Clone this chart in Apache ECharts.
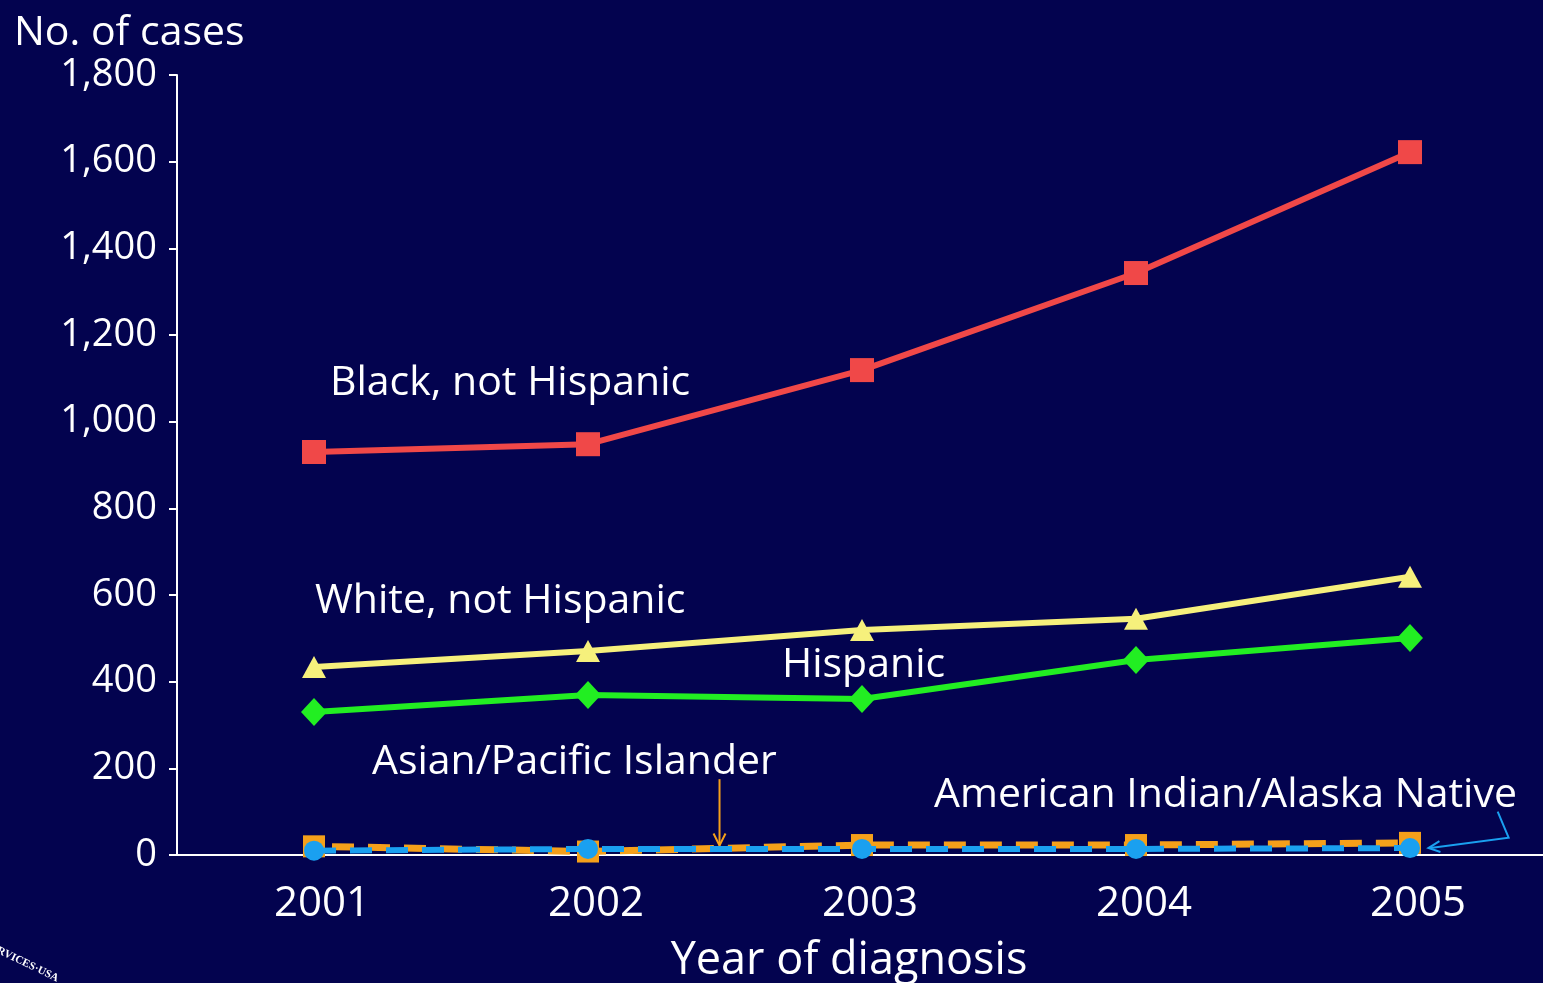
<!DOCTYPE html>
<html><head><meta charset="utf-8">
<script src="https://cdn.jsdelivr.net/npm/echarts@6/dist/echarts.min.js"></script>
<style>html,body{margin:0;padding:0;background:#03034f;}#c{width:1543px;height:983px;}</style>
</head><body><div id="c"></div>
<script>
const years = ['2001','2002','2003','2004','2005'];
const yTicks = [0,200,400,600,800,1000,1200,1400,1600,1800];
const black = [930, 948, 1119, 1343, 1622];
const white = [434, 471, 519, 545, 642];
const hispanic = [330, 369, 360, 450, 501];
const asian = [20, 8, 23, 23, 28];
const aian = [10, 14, 14, 14, 16];
const seriesNames = ['Black, not Hispanic','White, not Hispanic','Hispanic','Asian/Pacific Islander','American Indian/Alaska Native'];

const FONT = '"Open Sans", Lato, sans-serif';
const G = {left:177, right:-4, top:75, bottom:128};
const chart = echarts.init(document.getElementById('c'));
function fmt(v){return v.toLocaleString('en-US');}
const option = {
  backgroundColor:'#03034f',
  animation:false,
  grid:{left:G.left,right:G.right,top:G.top,bottom:G.bottom,containLabel:false,outerBoundsMode:'none'},
  xAxis:{type:'category',data:years,boundaryGap:true,
    axisLine:{lineStyle:{color:'#ffffff',width:2}},axisTick:{show:false},
    axisLabel:{color:'#ffffff',fontSize:42,fontFamily:FONT,margin:28,padding:[0,0,0,16]},
    name:'Year of diagnosis',nameLocation:'middle',nameGap:84,nameMoveOverlap:false,
    nameTextStyle:{color:'#ffffff',fontSize:45,fontFamily:FONT,padding:[0,0,0,-26]}},
  yAxis:{type:'value',min:0,max:1800,interval:200,
    axisLine:{show:true,lineStyle:{color:'#ffffff',width:2}},
    axisTick:{show:true,length:8,lineStyle:{color:'#ffffff',width:2}},
    splitLine:{show:false},
    axisLabel:{color:'#ffffff',fontSize:38,fontFamily:FONT,margin:20,formatter:v=>fmt(v)}},
  series:[
    {name:seriesNames[4],type:'line',data:aian,z:3,symbol:'circle',symbolSize:20,
      itemStyle:{color:'#1aa0f0'},lineStyle:{color:'#1aa0f0',width:6,type:[22,14]}},
    {name:seriesNames[3],type:'line',data:asian,z:2,symbol:'rect',symbolSize:22,
      itemStyle:{color:'#f5a01a'},lineStyle:{color:'#f5a01a',width:7,type:[22,14],dashOffset:18}},
    {name:seriesNames[2],type:'line',data:hispanic,symbol:'diamond',symbolSize:[26,28],
      itemStyle:{color:'#22ee22'},lineStyle:{color:'#22ee22',width:6}},
    {name:seriesNames[1],type:'line',data:white,symbol:'triangle',symbolSize:[24,22],
      itemStyle:{color:'#f6f07c'},lineStyle:{color:'#f6f07c',width:6}},
    {name:seriesNames[0],type:'line',data:black,symbol:'rect',symbolSize:24,
      itemStyle:{color:'#f04848'},lineStyle:{color:'#f04848',width:6}}
  ]
};
chart.setOption(option);

function px(idx, v){
  const i0 = Math.floor(idx), f = idx - i0;
  const a = chart.convertToPixel({gridIndex:0},[i0, v]);
  if (f === 0) return a;
  const b = chart.convertToPixel({gridIndex:0},[i0+1, v]);
  return [a[0] + (b[0]-a[0])*f, a[1]];
}
const txt = (x,y,t,opts={}) => ({type:'text',x:x,y:y,silent:true,
  style:Object.assign({text:t,fill:'#ffffff',font:'41px '+FONT,textAlign:'left',textVerticalAlign:'middle'},opts)});

const aTop = px(1.48, 175), aBot = px(1.48, 22);
const bTip = px(4.06, 16);
const bMid = px(4.36, 40), bStart = px(4.32, 100);
chart.setOption({graphic:[
  txt(14,33,'No. of cases',{font:'41px '+FONT}),
  txt(330,383,seriesNames[0]),
  txt(315,601,seriesNames[1]),
  txt(782,665,seriesNames[2]),
  txt(372,762,seriesNames[3]),
  txt(934,795,seriesNames[4]),
  {type:'polyline',silent:true,shape:{points:[aTop,aBot]},style:{stroke:'#f5a01a',lineWidth:2}},
  {type:'polyline',silent:true,shape:{points:[[aBot[0]-6,aBot[1]-12],aBot,[aBot[0]+6,aBot[1]-12]]},style:{stroke:'#f5a01a',lineWidth:2,fill:null}},
  {type:'polyline',silent:true,shape:{points:[bStart,bMid,[bTip[0]+4,bTip[1]]]},style:{stroke:'#1aa0f0',lineWidth:2,fill:null}},
  {type:'polyline',silent:true,shape:{points:[[bTip[0]+13,bTip[1]-7],[bTip[0]+2,bTip[1]],[bTip[0]+14,bTip[1]+4]]},style:{stroke:'#1aa0f0',lineWidth:2,fill:null}},
  {type:'text',x:0,y:945,rotation:-0.45,silent:true,style:{text:'RVICES·USA',fill:'#ffffff',font:'bold 11px "Liberation Serif", serif'}}
]});
</script></body></html>
